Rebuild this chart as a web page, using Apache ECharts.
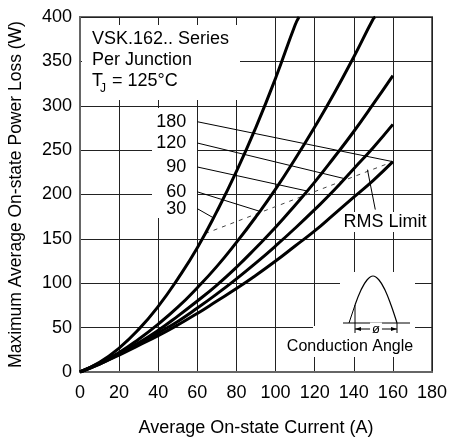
<!DOCTYPE html>
<html><head><meta charset="utf-8">
<script src="https://cdn.jsdelivr.net/npm/echarts@6/dist/echarts.min.js"></script>
<style>html,body{margin:0;padding:0;background:#fff}#c{width:449px;height:439px}</style>
</head><body><div id="c"></div>
<script>
// ---- data ----
const current = [0,10,20,30,40,50,60,70,80,90,100,110,120,130,140,150,160];
const p180 = [0,9,19,30,41,53,66,80,94,109,125,142,159,178,197,216,237];
const p120 = [0,9,20,31,44,57,72,88,105,123,142,162,183,205,229,253,279];
const p90  = [0,10,21,33,47,63,80,98,118,140,163,188,214,242,271,302,334];
const p60  = [0,10,22,37,54,73,95,119,146,175,206,240,276,314,355,398];
const end60 = [151,400];
const p30  = [0,11,27,48,74,105,140,181,226,276,331,391];
const end30 = [112,400];
const rmsLimit = [[64,156],[160,237]];
const rmsPointer = [[147,228],[151,183]];
const angleLabels = ['180','120','90','60','30'];
const leaderStart = [[60,282],[60,258],[60,231],[60,203],[60,184]];
const leaderEnd = [[160,237],[135,218],[116,204],[92,181],[68,174]];
const titleLines = ['VSK.162.. Series','Per Junction'];
const xName = 'Average On-state Current (A)';
const yName = 'Maximum Average On-state Power Loss (W)';

const FONT = '"Liberation Sans", Arial, sans-serif';
const chart = echarts.init(document.getElementById('c'));
function pairs(xs, ys){ return ys.map((v,i)=>[xs[i], v]); }

const series = [];
[[p180,null],[p120,null],[p90,null],[p60,end60],[p30,end30]].forEach(([vals,end])=>{
  const d = pairs(current, vals); if (end) d.push(end);
  series.push({type:'line', data:d, smooth:true, symbol:'none', silent:true,
    lineStyle:{color:'#000', width:3}, z:4});
});
leaderStart.forEach((s,i)=>{
  series.push({type:'line', data:[s, leaderEnd[i]], symbol:'none', silent:true,
    lineStyle:{color:'#000', width:1}, z:3});
});
series.push({type:'line', data:rmsLimit, symbol:'none', silent:true,
  lineStyle:{color:'#444', width:1, type:[4,5]}, z:3});
series.push({type:'line', data:rmsPointer, symbol:'none', silent:true,
  lineStyle:{color:'#000', width:1}, z:3});

chart.setOption({
  animation:false,
  grid:{left:80, right:17, top:17, bottom:67, show:true, borderColor:'#666', borderWidth:2,
    containLabel:false, outerBoundsMode:'none'},
  xAxis:{type:'value', min:0, max:180, interval:20,
    axisLine:{show:true, lineStyle:{color:'#666', width:2}}, axisTick:{show:false},
    axisLabel:{fontSize:18, color:'#000', fontFamily:FONT, margin:12},
    splitLine:{show:true, lineStyle:{color:'#222', width:1}},
    name:xName, nameLocation:'middle', nameGap:47,
    nameTextStyle:{fontSize:18, color:'#000', fontFamily:FONT}},
  yAxis:{type:'value', min:0, max:400, interval:50,
    axisLine:{show:true, lineStyle:{color:'#666', width:2}}, axisTick:{show:false},
    axisLabel:{fontSize:18, color:'#000', fontFamily:FONT, margin:8},
    splitLine:{show:true, lineStyle:{color:'#222', width:1}},
    name:yName, nameLocation:'middle', nameGap:55,
    nameTextStyle:{fontSize:17.5, color:'#000', fontFamily:FONT}},
  series
});

// ---- annotations ----
const px = p => chart.convertToPixel({xAxisIndex:0, yAxisIndex:0}, p);
const txt = (x,y,t,opt) => Object.assign({type:'text', x, y, z:6, silent:true,
  style:Object.assign({text:t, font:'18px '+FONT, fill:'#000', textVerticalAlign:'middle'}, opt||{})});
const rect = (x,y,w,h) => ({type:'rect', shape:{x,y,width:w,height:h}, style:{fill:'#fff'}, z:1, silent:true});

const g = [];
g.push(rect(82,25,158,75));
g.push(rect(152,108,45,110));
g.push(rect(340,272,75,59));
g.push(rect(313,326,102,31));
g.push(txt(92,39,titleLines[0]));
g.push(txt(92,60,titleLines[1]));
g.push(txt(92,81,'T'));
g.push(txt(100,89,'J',{font:'12px '+FONT}));
g.push(txt(112,81,'= 125°C'));
angleLabels.forEach((t,i)=>{
  const p = px(leaderStart[i]);
  g.push(txt(p[0]-11, p[1], t, {textAlign:'right'}));
});
const rp = px([156,169]);
g.push(txt(rp[0], rp[1], 'RMS Limit', {textAlign:'center', backgroundColor:'#fff', padding:[1,2]}));
// conduction angle inset
g.push({type:'line', shape:{x1:343,y1:323,x2:410,y2:323}, style:{stroke:'#000', lineWidth:1}, z:5});
g.push({type:'polyline', shape:{points:[[349,323],[355,305]]}, style:{stroke:'#000', lineWidth:1, fill:null}, z:5});
g.push({type:'polyline', shape:{smooth:0.4, points:[[355,305],[361,290],[367,280],[373,276],[379,280],[385,290],[391,305],[397,323]]}, style:{stroke:'#000', lineWidth:1.2, fill:null}, z:5});
g.push({type:'line', shape:{x1:355,y1:305,x2:355,y2:333}, style:{stroke:'#000', lineWidth:1}, z:5});
g.push({type:'line', shape:{x1:397,y1:323,x2:397,y2:333}, style:{stroke:'#000', lineWidth:1}, z:5});
g.push({type:'line', shape:{x1:355,y1:329,x2:397,y2:329}, style:{stroke:'#000', lineWidth:1}, z:5});
g.push({type:'polygon', shape:{points:[[355,329],[361,327],[361,331]]}, style:{fill:'#000'}, z:5});
g.push({type:'polygon', shape:{points:[[397,329],[391,327],[391,331]]}, style:{fill:'#000'}, z:5});
g.push(txt(376,329,'ø',{textAlign:'center', font:'13px '+FONT, backgroundColor:'#fff', padding:[0,2]}));
g.push(txt(350,347,'Conduction Angle',{textAlign:'center', font:'16px '+FONT}));
chart.setOption({graphic:g});
</script>
</body></html>
